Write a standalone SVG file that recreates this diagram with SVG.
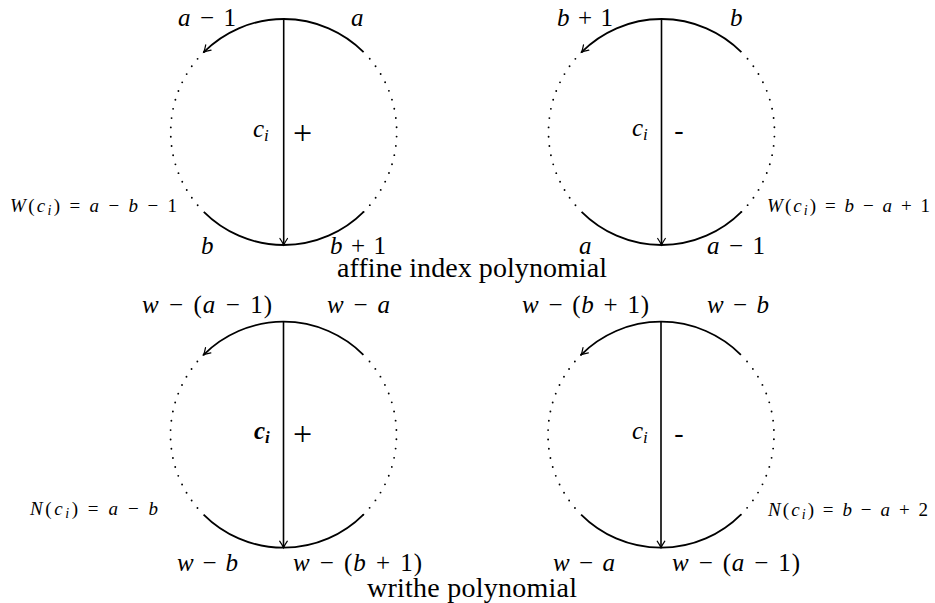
<svg xmlns="http://www.w3.org/2000/svg" xmlns:xlink="http://www.w3.org/1999/xlink" width="935" height="603" viewBox="0 0 935 603">
<style>
text{font-family:"Liberation Serif","Times New Roman",serif;fill:#000}
.m{font-size:25px}
.it{font-style:italic}
.bd{font-weight:bold}
.sub{font-size:17px}
.s{font-size:19px}
.ssub{font-size:14px}
.cap{font-size:28px}
.plus{font-size:34px}
.hy{font-size:28px}
.solid{fill:none;stroke:#000;stroke-width:1.8}
.vert{fill:none;stroke:#000;stroke-width:1.6}
.dots{fill:none;stroke:#000;stroke-width:1.9;stroke-linecap:round;stroke-dasharray:0 9.34}
</style>
<defs>
<marker id="arr" viewBox="-8 -5 10 10" refX="0" refY="0" markerWidth="10" markerHeight="10" markerUnits="userSpaceOnUse" orient="auto">
<path d="M-6.5,-3.8 Q-2.2,-0.9 0,0 Q-2.2,0.9 -6.5,3.8" fill="none" stroke="#000" stroke-width="1.2" stroke-linecap="round"/>
</marker>
<g id="crossing">
<path class="solid" d="M79.9,-79.9 A113 113 0 0 0 -79.9,-79.9" marker-end="url(#arr)"/>
<path class="solid" d="M-79.9,79.9 A113 113 0 0 0 79.9,79.9"/>
<path class="dots" d="M-79.9,-79.9 A113 113 0 0 0 -79.9,79.9"/>
<path class="dots" d="M79.9,79.9 A113 113 0 0 0 79.9,-79.9"/>
<path class="vert" d="M0,-113 L0,113" marker-end="url(#arr)"/>
</g>
</defs>

<g id="connectors">
<use xlink:href="#crossing" href="#crossing" x="283.7" y="132"/>
<use xlink:href="#crossing" href="#crossing" x="661.5" y="132"/>
<use xlink:href="#crossing" href="#crossing" x="283.5" y="434.7"/>
<use xlink:href="#crossing" href="#crossing" x="661" y="434.7"/>
</g>

<g id="node-affine-positive">
<text class="m" x="178" y="26" textLength="58" lengthAdjust="spacing"><tspan class="it">a</tspan>&#8196;−&#8196;1</text>
<text class="m it" x="351" y="26">a</text>
<text class="m" x="253" y="137"><tspan class="it">c</tspan><tspan class="it sub" dy="4">i</tspan></text>
<text class="plus" x="302.5" y="144" text-anchor="middle">+</text>
<text class="s" x="10" y="212" textLength="167" lengthAdjust="spacing"><tspan class="it">W</tspan>(<tspan class="it">c</tspan><tspan class="it ssub" dy="3">i</tspan><tspan dy="-3">)&#8197;=&#8197;</tspan><tspan class="it">a</tspan>&#8197;−&#8197;<tspan class="it">b</tspan>&#8197;−&#8197;1</text>
<text class="m it" x="201" y="253.5">b</text>
<text class="m" x="330" y="253.5" textLength="56" lengthAdjust="spacing"><tspan class="it">b</tspan>&#8196;+&#8196;1</text>
</g>

<g id="node-affine-negative">
<text class="m" x="557" y="26" textLength="56" lengthAdjust="spacing"><tspan class="it">b</tspan>&#8196;+&#8196;1</text>
<text class="m it" x="730" y="26">b</text>
<text class="m" x="632" y="136"><tspan class="it">c</tspan><tspan class="it sub" dy="4">i</tspan></text>
<text class="hy" x="679" y="138.5" text-anchor="middle">-</text>
<text class="s" x="767" y="212" textLength="163" lengthAdjust="spacing"><tspan class="it">W</tspan>(<tspan class="it">c</tspan><tspan class="it ssub" dy="3">i</tspan><tspan dy="-3">)&#8197;=&#8197;</tspan><tspan class="it">b</tspan>&#8197;−&#8197;<tspan class="it">a</tspan>&#8197;+&#8197;1</text>
<text class="m it" x="579" y="253.5">a</text>
<text class="m" x="707" y="253.5" textLength="58" lengthAdjust="spacing"><tspan class="it">a</tspan>&#8196;−&#8196;1</text>
</g>

<g id="caption-affine">
<text class="cap" x="337" y="277" textLength="270" lengthAdjust="spacing">affine index polynomial</text>
</g>

<g id="node-writhe-positive">
<text class="m" x="142" y="313" textLength="130" lengthAdjust="spacing"><tspan class="it">w</tspan>&#8196;−&#8196;(<tspan class="it">a</tspan>&#8196;−&#8196;1)</text>
<text class="m" x="327" y="313" textLength="63" lengthAdjust="spacing"><tspan class="it">w</tspan>&#8196;−&#8196;<tspan class="it">a</tspan></text>
<text class="m bd" x="254" y="438.5"><tspan class="it">c</tspan><tspan class="it sub" dy="4">i</tspan></text>
<text class="plus" x="302.5" y="444.5" text-anchor="middle">+</text>
<text class="s" x="30" y="515" textLength="128" lengthAdjust="spacing"><tspan class="it">N</tspan>(<tspan class="it">c</tspan><tspan class="it ssub" dy="3">i</tspan><tspan dy="-3">)&#8197;=&#8197;</tspan><tspan class="it">a</tspan>&#8197;−&#8197;<tspan class="it">b</tspan></text>
<text class="m" x="177" y="570.5" textLength="61" lengthAdjust="spacing"><tspan class="it">w</tspan>&#8196;−&#8196;<tspan class="it">b</tspan></text>
<text class="m" x="293" y="570.5" textLength="129" lengthAdjust="spacing"><tspan class="it">w</tspan>&#8196;−&#8196;(<tspan class="it">b</tspan>&#8196;+&#8196;1)</text>
</g>

<g id="node-writhe-negative">
<text class="m" x="522" y="313" textLength="127" lengthAdjust="spacing"><tspan class="it">w</tspan>&#8196;−&#8196;(<tspan class="it">b</tspan>&#8196;+&#8196;1)</text>
<text class="m" x="707" y="313" textLength="62" lengthAdjust="spacing"><tspan class="it">w</tspan>&#8196;−&#8196;<tspan class="it">b</tspan></text>
<text class="m" x="632" y="439"><tspan class="it">c</tspan><tspan class="it sub" dy="4">i</tspan></text>
<text class="hy" x="679" y="441.5" text-anchor="middle">-</text>
<text class="s" x="768" y="516" textLength="160" lengthAdjust="spacing"><tspan class="it">N</tspan>(<tspan class="it">c</tspan><tspan class="it ssub" dy="3">i</tspan><tspan dy="-3">)&#8197;=&#8197;</tspan><tspan class="it">b</tspan>&#8197;−&#8197;<tspan class="it">a</tspan>&#8197;+&#8197;2</text>
<text class="m" x="553" y="570.5" textLength="62" lengthAdjust="spacing"><tspan class="it">w</tspan>&#8196;−&#8196;<tspan class="it">a</tspan></text>
<text class="m" x="672" y="570.5" textLength="128" lengthAdjust="spacing"><tspan class="it">w</tspan>&#8196;−&#8196;(<tspan class="it">a</tspan>&#8196;−&#8196;1)</text>
</g>

<g id="caption-writhe">
<text class="cap" x="367" y="597" textLength="210" lengthAdjust="spacing">writhe polynomial</text>
</g>
</svg>
